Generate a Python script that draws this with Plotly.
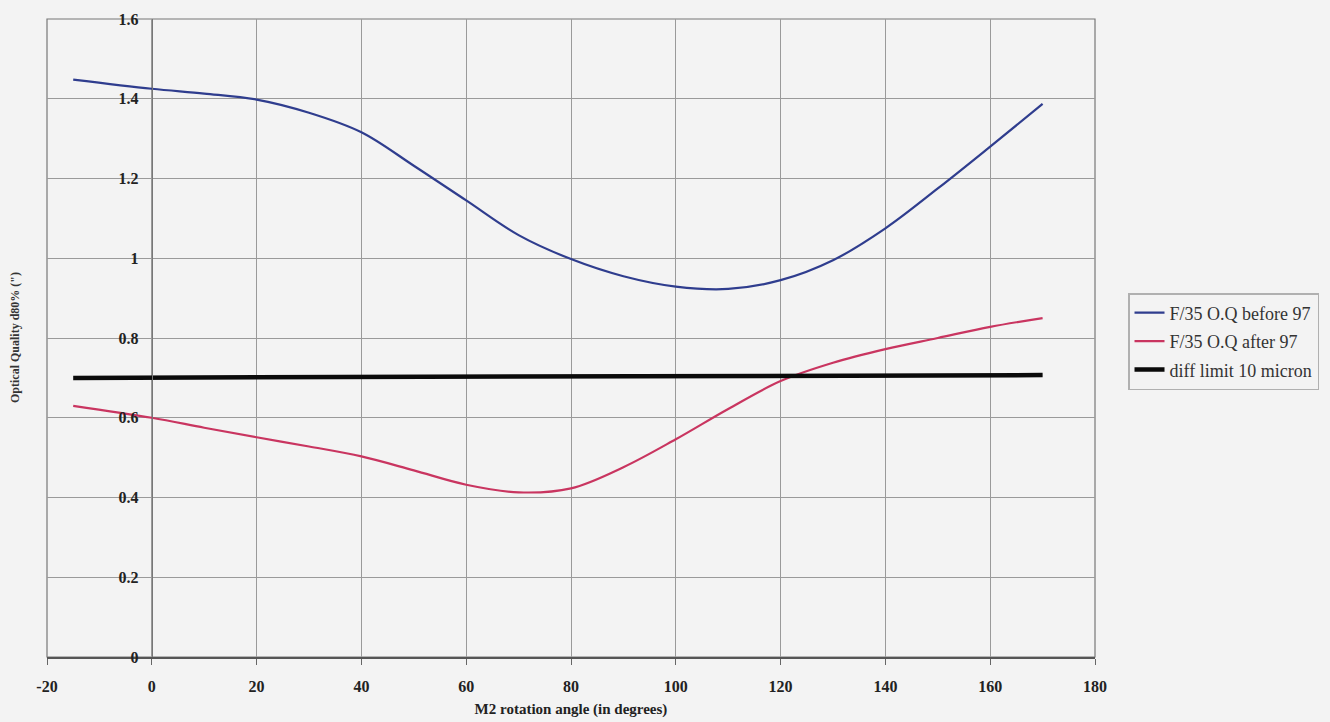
import plotly.graph_objects as go

angle = [-15, 0, 10, 20, 30, 40, 50, 60, 70, 80, 90, 100, 110, 120, 130, 140, 150, 160, 170]
before_97 = [1.448, 1.425, 1.413, 1.398, 1.365, 1.316, 1.232, 1.145, 1.058, 0.998, 0.955, 0.929, 0.923, 0.945, 0.995, 1.075, 1.175, 1.28, 1.387]
after_97 = [0.63, 0.60, 0.575, 0.551, 0.528, 0.503, 0.468, 0.432, 0.413, 0.423, 0.476, 0.546, 0.622, 0.692, 0.738, 0.772, 0.80, 0.828, 0.85]
diff_angle = [-15, 170]
diff_limit = [0.70, 0.707]

names = ["F/35 O.Q before 97", "F/35 O.Q after 97", "diff limit 10 micron"]
x_ticks = [-20, 0, 20, 40, 60, 80, 100, 120, 140, 160, 180]
y_ticks = [0, 0.2, 0.4, 0.6, 0.8, 1, 1.2, 1.4, 1.6]

SERIF = "Liberation Serif, Times New Roman, serif"
BG = "#f3f3f3"
GRID = "#9a9a9a"

fig = go.Figure()
fig.add_trace(go.Scatter(x=angle, y=before_97, mode="lines", name=names[0], legendgroup="a",
                         line=dict(color="#2f3d8e", width=2.2, shape="spline", smoothing=1.0)))
fig.add_trace(go.Scatter(x=angle, y=after_97, mode="lines", name=names[1], legendgroup="b",
                         line=dict(color="#c93560", width=2.2, shape="spline", smoothing=1.0)))
fig.add_trace(go.Scatter(x=diff_angle, y=diff_limit, mode="lines", name=names[2], legendgroup="c",
                         line=dict(color="#0a0a0a", width=4.5)))

fig.update_layout(
    width=1330, height=722,
    margin=dict(l=47, r=235, t=19, b=65, autoexpand=False),
    paper_bgcolor=BG, plot_bgcolor=BG,
    font=dict(family=SERIF, color="#222"),
    showlegend=True,
    legend=dict(x=1.0315, y=0.5705, xanchor="left", yanchor="top",
                bordercolor="#b0b0b0", borderwidth=1.5, bgcolor=BG,
                font=dict(family=SERIF, size=18, color="#333"),
                tracegroupgap=2),
    xaxis=dict(range=[-20, 180], tickvals=x_ticks, ticktext=[str(v) for v in x_ticks],
               showgrid=True, gridcolor=GRID, gridwidth=1,
               showline=True, linecolor="#555", linewidth=1.5,
               ticks="outside", ticklen=6, tickcolor="#666", ticklabelstandoff=8,
               tickfont=dict(family=SERIF, size=16, weight="bold", color="#222"),
               zeroline=False,
               title=dict(text="M2 rotation angle (in degrees)", standoff=10,
                          font=dict(family=SERIF, size=15, weight="bold", color="#222"))),
    yaxis=dict(range=[0, 1.6], tickvals=y_ticks, ticktext=["0", "0.2", "0.4", "0.6", "0.8", "1", "1.2", "1.4", "1.6"],
               anchor="free", position=0.1,
               showgrid=True, gridcolor=GRID, gridwidth=1,
               showline=True, linecolor="#777", linewidth=1,
               ticks="", ticklabelstandoff=10,
               tickfont=dict(family=SERIF, size=16, weight="bold", color="#222"),
               zeroline=False),
)

# plot border
fig.add_shape(type="rect", xref="paper", yref="paper", x0=0, x1=1, y0=0, y1=1,
              line=dict(color="#777", width=1.2), layer="below")

# y-axis title placed at the far left edge
fig.add_annotation(text='Optical Quality d80% (")', xref="paper", yref="paper",
                   x=0, y=0.5, xanchor="center", yanchor="middle", xshift=-32,
                   textangle=-90, showarrow=False,
                   font=dict(family=SERIF, size=12, weight="bold", color="#333"))

fig.write_html(
    "out.html",
    config={"displayModeBar": False},
    post_script="document.body.style.margin='0';document.body.style.overflow='hidden';"
                "document.body.style.background='" + BG + "';",
)
